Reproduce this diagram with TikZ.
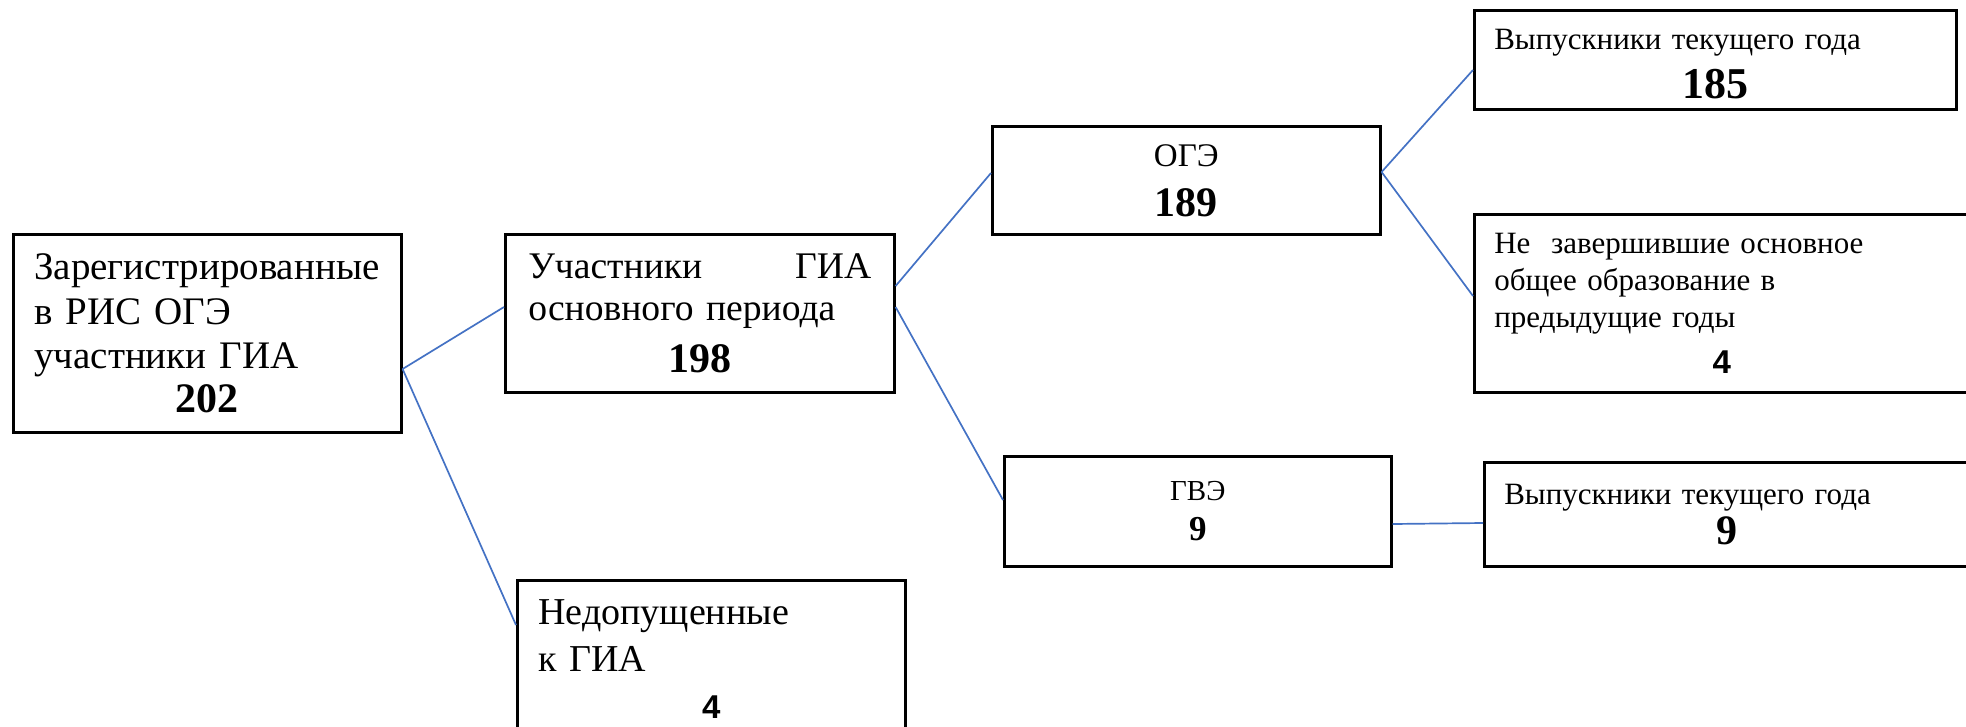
\documentclass[tikz,border=0pt]{standalone}
\usepackage{fontspec}
\setmainfont{Liberation Serif}
\newfontfamily\arialfont{Liberation Sans}
\usetikzlibrary{calc}
\definecolor{linkblue}{HTML}{4472C4}
\tikzset{
  box/.style={draw, line width=2.6pt, anchor=north west, inner ysep=0pt},
  link/.style={draw=linkblue, line width=1.7pt},
}
\begin{document}
\begin{tikzpicture}[x=1pt,y=-1pt]
\useasboundingbox (0,0) rectangle (1966,726);
\clip (0,0) rectangle (1966,726);
\node[box, inner xsep=21pt, minimum width=388pt, minimum height=198pt, text width=346pt, font=\fontsize{39}{44.5}\selectfont] (reg) at (12,233) {Зарегистрированные\\в РИС ОГЭ\\участники ГИА\par{\centering\fontsize{42}{44}\selectfont\bfseries 202\par}};
\node[box, inner xsep=23pt, minimum width=389pt, minimum height=158pt, text width=343pt, font=\fontsize{37.6}{42}\selectfont] (uch) at (504,233) {Участники\hfill ГИА\\основного периода\par{\centering\fontsize{42}{52}\selectfont\bfseries 198\par}};
\node[box, inner xsep=10pt, minimum width=388pt, minimum height=108pt, text width=368pt, font=\fontsize{33}{38}\selectfont] (oge) at (991,125) {\centering ОГЭ\par\fontsize{42}{50}\selectfont\bfseries 189\par};
\node[box, inner xsep=20pt, minimum width=482pt, minimum height=99pt, text width=442pt, font=\fontsize{31}{36}\selectfont] (vyp1) at (1473,9) {\rule{0pt}{29pt}Выпускники текущего года\par{\centering\fontsize{44}{49}\selectfont\bfseries 185\par}};
\node[box, inner xsep=20pt, minimum width=495pt, minimum height=178pt, text width=455pt, font=\fontsize{31}{37}\selectfont] (nezav) at (1473,213) {Не\ \ завершившие основное\\общее образование в\\предыдущие годы\par{\centering\arialfont\fontsize{33}{46}\selectfont\bfseries 4\par}};
\node[box, inner xsep=10pt, minimum width=387pt, minimum height=110pt, text width=367pt, font=\fontsize{29}{33}\selectfont] (gve) at (1003,455) {\centering ГВЭ\par\fontsize{35}{40}\selectfont\bfseries 9\par};
\node[box, inner xsep=20pt, minimum width=485pt, minimum height=104pt, text width=445pt, font=\fontsize{31}{36}\selectfont] (vyp2) at (1483,461) {Выпускники текущего года\par{\centering\fontsize{42}{40}\selectfont\bfseries 9\par}};
\node[box, inner xsep=21pt, minimum width=388pt, minimum height=157pt, text width=346pt, font=\fontsize{38}{47}\selectfont] (nedop) at (516,579) {Недопущенные\\к ГИА\par{\centering\arialfont\fontsize{33}{47}\selectfont\bfseries 4\par}};
\draw[link] ($(reg.north east)+(0,136)$) -- ($(uch.north west)+(0,74)$);
\draw[link] ($(reg.north east)+(0,136)$) -- ($(nedop.north west)+(0,46)$);
\draw[link] ($(uch.north east)+(0,53)$) -- ($(oge.north west)+(0,48)$);
\draw[link] ($(uch.north east)+(0,74)$) -- ($(gve.north west)+(0,45)$);
\draw[link] ($(oge.north east)+(0,47)$) -- ($(vyp1.north west)+(0,61)$);
\draw[link] ($(oge.north east)+(0,47)$) -- ($(nezav.north west)+(0,83)$);
\draw[link] ($(gve.north east)+(0,69)$) -- ($(vyp2.north west)+(0,62)$);
\end{tikzpicture}
\end{document}
